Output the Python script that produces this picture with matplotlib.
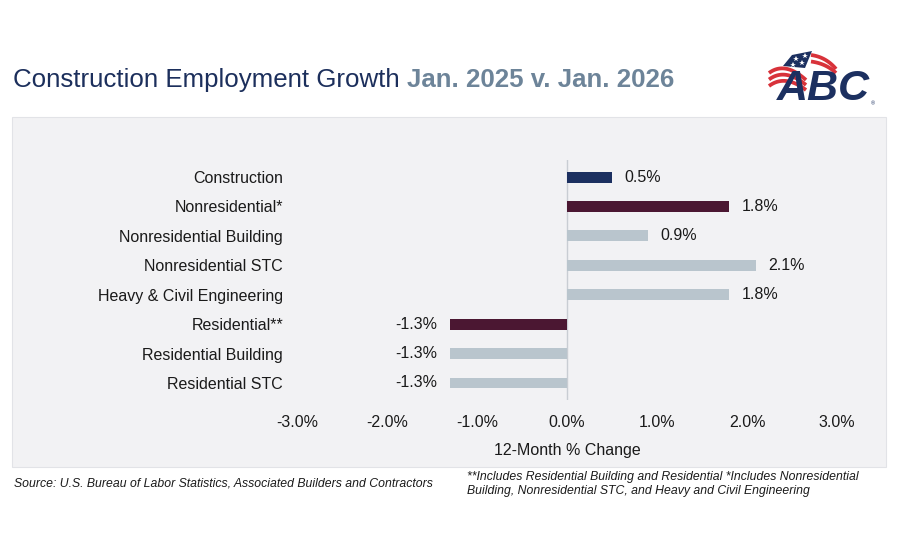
import matplotlib
matplotlib.use("Agg")
import matplotlib.pyplot as plt
from matplotlib.patches import Rectangle, Polygon
import numpy as np

plt.rcParams['font.family'] = ['Liberation Sans', 'DejaVu Sans']

categories = ["Construction", "Nonresidential*", "Nonresidential Building",
              "Nonresidential STC", "Heavy & Civil Engineering", "Residential**",
              "Residential Building", "Residential STC"]
values = [0.5, 1.8, 0.9, 2.1, 1.8, -1.3, -1.3, -1.3]
value_labels = ["0.5%", "1.8%", "0.9%", "2.1%", "1.8%", "-1.3%", "-1.3%", "-1.3%"]
bar_colors = ["#1c3060", "#4b1732", "#b9c5cd", "#b9c5cd", "#b9c5cd",
              "#4b1732", "#b9c5cd", "#b9c5cd"]
xticks = [-3, -2, -1, 0, 1, 2, 3]
xtick_labels = ["-3.0%", "-2.0%", "-1.0%", "0.0%", "1.0%", "2.0%", "3.0%"]

W, H = 900, 550
fig = plt.figure(figsize=(9, 5.5), dpi=100)
fig.patch.set_facecolor("white")

def fx(px):
    return px / W

def fy(py):
    return 1 - py / H

# grey panel
panel = Rectangle((fx(12), fy(467)), fx(886) - fx(12), fy(117) - fy(467),
                  transform=fig.transFigure, facecolor="#f2f2f4",
                  edgecolor="#e2e3e7", linewidth=0.8, zorder=-5)
fig.patches.append(panel)

# axes
left, right = 297, 837
top, bottom = 160, 400
ax = fig.add_axes([fx(left), fy(bottom), fx(right) - fx(left), fy(top) - fy(bottom)])
ax.set_facecolor("none")
ax.patch.set_alpha(0)
y = np.arange(len(categories))
ax.barh(y, values, height=0.37, color=bar_colors, zorder=2)
ax.set_xlim(-3, 3)
ax.set_ylim(len(categories) - 1 + 0.58, -0.58)
ax.axvline(0, color="#c9cdd3", linewidth=1, zorder=1)
for s in ax.spines.values():
    s.set_visible(False)
ax.set_yticks(y)
ax.set_yticklabels(categories, fontsize=11.5, color="#1a1a1a")
ax.set_xticks(xticks)
ax.set_xticklabels(xtick_labels, fontsize=11.5, color="#1a1a1a")
ax.tick_params(axis="y", length=0, pad=10)
ax.tick_params(axis="x", length=0, pad=11)
ax.set_xlabel("12-Month % Change", fontsize=11.5, color="#1a1a1a", labelpad=9)

for yi, v, lab in zip(y, values, value_labels):
    if v >= 0:
        ax.annotate(lab, (v, yi), xytext=(9, 0), textcoords="offset points",
                    ha="left", va="center", fontsize=11.5, color="#1a1a1a")
    else:
        ax.annotate(lab, (v, yi), xytext=(-9, 0), textcoords="offset points",
                    ha="right", va="center", fontsize=11.5, color="#1a1a1a")

# title
t1 = fig.text(fx(13), fy(80), "Construction Employment Growth ", fontsize=18.6,
              color="#1c2f5c", ha="left", va="center")
fig.canvas.draw()
bb = t1.get_window_extent()
fig.text(bb.x1 / W, fy(80), "Jan. 2025 v. Jan. 2026", fontsize=18.6,
         fontweight="bold", color="#6d8499", ha="left", va="center")

# ABC logo (simplified, pixel coordinates)
lx0, lx1, ly0, ly1 = 760, 880, 45, 110
logo_ax = fig.add_axes([fx(lx0), fy(ly1), fx(lx1) - fx(lx0), fy(ly0) - fy(ly1)])
logo_ax.set_xlim(lx0, lx1)
logo_ax.set_ylim(ly1, ly0)
logo_ax.axis("off")
red = "#d8323a"
navy = "#1c3060"
t = np.linspace(0, 1, 30)
def curve(p0, p1, p2):
    xs = (1 - t) ** 2 * p0[0] + 2 * (1 - t) * t * p1[0] + t ** 2 * p2[0]
    ys = (1 - t) ** 2 * p0[1] + 2 * (1 - t) * t * p1[1] + t ** 2 * p2[1]
    return xs, ys
for k in range(3):
    xs, ys = curve((769, 73 + 6.5 * k), (785, 61 + 6.5 * k), (806, 80 + 5 * k))
    logo_ax.plot(xs, ys, color=red, linewidth=2.7, solid_capstyle="butt")
for k in range(2):
    xs, ys = curve((811, 55 + 6.5 * k), (826, 57 + 6.5 * k), (836, 69 + 4 * k))
    logo_ax.plot(xs, ys, color=red, linewidth=2.7, solid_capstyle="butt")
logo_ax.add_patch(Polygon([(783, 66), (792, 55), (812, 51), (805, 68)],
                          closed=True, facecolor=navy, edgecolor="none"))
for sx, sy in [(796, 59), (805, 56), (793, 65), (802, 63)]:
    logo_ax.plot(sx, sy, marker="*", color="white", markersize=4, markeredgewidth=0)
logo_ax.text(823, 89, "ABC", fontsize=31, fontweight="bold", fontstyle="italic",
             color=navy, ha="center", va="center")
logo_ax.text(873, 104, "®", fontsize=4, color=navy, ha="center", va="center")

# footers
fig.text(fx(14), fy(483), "Source: U.S. Bureau of Labor Statistics, Associated Builders and Contractors",
         fontsize=8.8, fontstyle="italic", color="#1a1a1a", ha="left", va="center")
fig.text(fx(467), fy(484),
         "**Includes Residential Building and Residential *Includes Nonresidential\n"
         "Building, Nonresidential STC, and Heavy and Civil Engineering",
         fontsize=8.8, fontstyle="italic", color="#1a1a1a", ha="left", va="center",
         linespacing=1.25)

fig.savefig("out.png", dpi=100, facecolor="white")
